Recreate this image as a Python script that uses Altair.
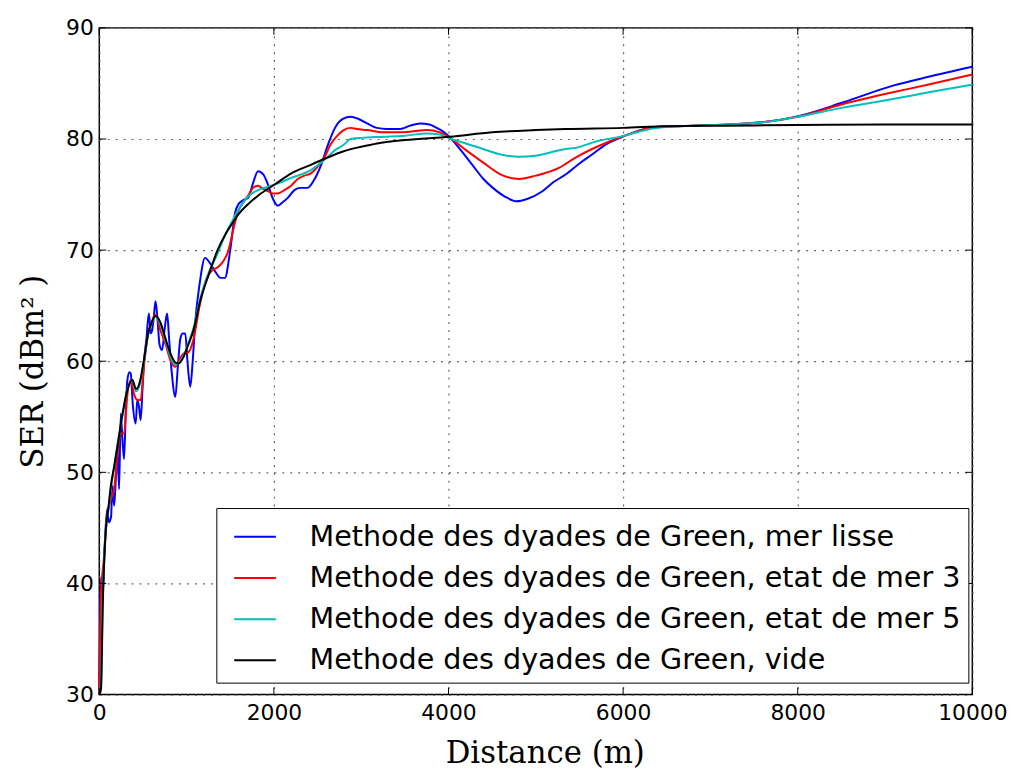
import altair as alt
import pandas as pd

# ---------------- data ----------------
lisse_d = [0, 20, 40, 60, 90, 110, 135, 150, 170, 190, 208, 227, 246, 265, 284, 305, 322, 345, 360, 385,
           417, 435, 455, 474, 495, 511, 540, 568, 590, 606, 625, 644, 665, 690, 720, 750, 777, 800, 830,
           871, 900, 928, 955, 985, 1010, 1042, 1070, 1098, 1150, 1212, 1270, 1326, 1390, 1439, 1500,
           1560, 1591, 1650, 1705, 1760, 1818, 1880, 1932, 1990, 2045, 2100, 2159, 2235, 2300, 2386,
           2460, 2538, 2620, 2700, 2790, 2879, 2970, 3068, 3180, 3295, 3447, 3560, 3674, 3780, 3864,
           3950, 4034, 4150, 4280, 4400, 4508, 4650, 4780, 4900, 5076, 5200, 5341, 5500, 5644, 5800,
           6023, 6200, 6402, 6600, 6800, 7000, 7200, 7576, 8030, 8523, 9091, 9500, 10000]
lisse_v = [30, 40.5, 39, 43, 46.7, 45.5, 46, 48.8, 47, 49.5, 52.3, 48.5, 55.3, 53, 51.2, 56, 58.3, 59, 58.9, 56,
           54.4, 56.5, 55.9, 54.7, 57.5, 59.8, 62, 64.3, 62.5, 62.8, 64, 65.4, 64, 61.5, 61.0, 63, 64.3, 62, 59,
           56.8, 59.5, 62.0, 62.5, 62.5, 60, 57.7, 60, 63.4, 67, 69.3, 68.8, 68.1, 67.5, 67.5, 70,
           73.5, 74.1, 74.5, 74.7, 76, 77.1, 76.8, 75.9, 74.6, 74.0, 74.3, 74.7, 75.4, 75.6, 75.6,
           76.3, 77.6, 79.5, 81.0, 81.8, 82.0, 81.8, 81.4, 81.0, 80.9, 80.9, 81.2, 81.4, 81.3, 81.0,
           80.6, 80.0, 78.9, 77.6, 76.4, 75.6, 74.8, 74.4, 74.6, 75.3, 76.1, 76.8, 77.8, 78.6, 79.5,
           80.3, 80.8, 81.1, 81.15, 81.2, 81.25, 81.3, 81.5, 82.1, 83.3, 84.8, 85.6, 86.5]

mer3_d = [0, 20, 50, 90, 130, 170, 208, 246, 284, 322, 360, 400, 440, 474, 511, 560, 600, 644, 700, 760,
          820, 871, 920, 966, 1020, 1080, 1150, 1231, 1300, 1364, 1420, 1477, 1540, 1591, 1650, 1705,
          1760, 1818, 1880, 1932, 1990, 2045, 2120, 2197, 2273, 2350, 2424, 2500, 2576, 2650, 2727,
          2800, 2880, 2950, 3068, 3250, 3447, 3600, 3750, 3900, 4034, 4200, 4394, 4600, 4811, 5000,
          5265, 5450, 5644, 5850, 6023, 6200, 6402, 6800, 7200, 7600, 8000, 8500, 9091, 9500, 10000]
mer3_v = [30, 39, 42, 46, 47.5, 48.5, 51.5, 53.5, 53.5, 57, 58.3, 57, 56.5, 56.5, 59.5, 62.5, 63.5, 64.2, 62.8, 61.5,
          60, 59.5, 60.2, 60.7, 60.8, 62.0, 65, 67.5, 68.2, 68.5, 69, 69.9, 72, 73.5, 74.3, 74.9,
          75.6, 75.8, 75.5, 75.3, 75.1, 75.1, 75.4, 75.8, 76.4, 76.7, 76.9, 77.5, 78.3, 79.5, 80.3,
          80.8, 81.0, 80.9, 80.8, 80.6, 80.6, 80.7, 80.8, 80.6, 80.0, 79.0, 77.9, 76.8, 76.4, 76.7,
          77.4, 78.3, 79.1, 79.8, 80.3, 80.8, 81.1, 81.2, 81.3, 81.5, 82.0, 83.1, 84.2, 84.9, 85.8]

mer5_d = [0, 20, 40, 76, 100, 133, 170, 208, 260, 322, 380, 420, 460, 511, 560, 600, 644, 700, 760, 820,
          870, 909, 960, 1020, 1080, 1155, 1250, 1350, 1450, 1515, 1591, 1700, 1818, 1932, 2045, 2200,
          2424, 2576, 2700, 2803, 2879, 3000, 3258, 3500, 3750, 3900, 4034, 4200, 4394, 4600, 4811,
          5000, 5341, 5455, 5700, 6023, 6200, 6402, 6800, 7200, 7600, 8000, 8500, 9091, 9500, 10000]
mer5_v = [30, 31, 38.5, 45, 46.3, 48.5, 50.5, 52.5, 54.8, 57.5, 58.2, 57.3, 57.8, 60.0, 62.4, 63.4, 64.0, 63.3, 61.8, 60.3,
          59.7, 59.8, 60.4, 61.6, 63.0, 65.6, 67.9, 69.6, 71.5, 72.5, 73.6, 74.8, 75.4, 75.7, 76.0, 76.5,
          77.2, 78.1, 79.0, 79.5, 80.0, 80.1, 80.2, 80.3, 80.5, 80.4, 80.0, 79.6, 79.1, 78.6, 78.4,
          78.5, 79.1, 79.2, 79.8, 80.3, 80.7, 81.0, 81.2, 81.3, 81.5, 82.0, 82.8, 83.6, 84.2, 84.9]

vide_d = [0, 20, 40, 76, 100, 133, 170, 208, 260, 322, 380, 420, 460, 511, 560, 600, 644, 700, 760, 820,
          870, 909, 960, 1020, 1080, 1155, 1250, 1350, 1450, 1515, 1591, 1700, 1818, 2008, 2200, 2400,
          2576, 2800, 3000, 3182, 3500, 4015, 4500, 5000, 5341, 6000, 6500, 7159, 8000, 9000, 10000]
vide_v = [30, 30.5, 38, 44.9, 46.5, 48.8, 50.5, 52.3, 55, 57.4, 58.3, 57.5, 58, 60.1, 62.5, 63.5, 64.1, 63.5, 62.0, 60.6,
          59.9, 59.8, 60.3, 61.5, 62.8, 65.4, 67.7, 69.9, 71.5, 72.3, 73.2, 74.1, 74.9, 75.9, 76.9, 77.6,
          78.2, 78.9, 79.3, 79.6, 79.9, 80.2, 80.6, 80.8, 80.9, 81.0, 81.15, 81.2, 81.25, 81.3, 81.3]

series_names = [
    "Methode des dyades de Green, mer lisse",
    "Methode des dyades de Green, etat de mer 3",
    "Methode des dyades de Green, etat de mer 5",
    "Methode des dyades de Green, vide",
]
series_colors = ["#0000ff", "#ff0000", "#00bfbf", "#000000"]

x_ticks = [0, 2000, 4000, 6000, 8000, 10000]
y_ticks = [30, 40, 50, 60, 70, 80, 90]

# ---------------- build table ----------------
rows = []
for name, ds, vs in zip(series_names, [lisse_d, mer3_d, mer5_d, vide_d], [lisse_v, mer3_v, mer5_v, vide_v]):
    for d, v in zip(ds, vs):
        rows.append({"serie": name, "d": d, "v": v})
df = pd.DataFrame(rows)

W, H = 880, 672
xscale = alt.Scale(domain=[0, 10000], nice=False)
yscale = alt.Scale(domain=[30, 90], nice=False)

x_axis = alt.Axis(title="Distance (m)", values=x_ticks, format="d", grid=True, labelFlush=False,
                  titleX=449, titleY=59, titleBaseline="middle",
                  titleFont="DejaVu Serif", titleFontSize=31, titleFontWeight="normal",
                  titleColor="black")
y_axis = alt.Axis(title="SER (dBm² )", values=y_ticks, grid=True, labelFlush=False,
                  titleX=-66, titleY=346, titleBaseline="middle", titleAlign="center",
                  titleFont="DejaVu Serif", titleFontSize=31, titleFontWeight="normal",
                  titleColor="black")

lines = alt.Chart(df).mark_line(strokeWidth=2, interpolate="monotone").encode(
    x=alt.X("d:Q", scale=xscale, axis=x_axis),
    y=alt.Y("v:Q", scale=yscale, axis=y_axis),
    color=alt.Color("serie:N",
                    scale=alt.Scale(domain=series_names, range=series_colors),
                    sort=series_names,
                    legend=alt.Legend(title=None, orient="none", legendX=118, legendY=484,
                                      strokeColor="black", fillColor="white", padding=7,
                                      symbolType="stroke", symbolSize=1764, symbolStrokeWidth=2,
                                      symbolOffset=10,
                                      labelFontSize=28.8, labelFont="DejaVu Sans", labelColor="black",
                                      labelOffset=33, labelLimit=1000, rowPadding=4.5, cornerRadius=0)),
)

tick_x = pd.DataFrame({"t": x_ticks})
tick_y = pd.DataFrame({"t": y_ticks})
tx_bot = alt.Chart(tick_x).mark_rule(color="black", strokeWidth=1).encode(
    x=alt.X("t:Q", scale=xscale, axis=x_axis), y=alt.value(H), y2=alt.value(H - 7))
tx_top = alt.Chart(tick_x).mark_rule(color="black", strokeWidth=1).encode(
    x=alt.X("t:Q", scale=xscale, axis=x_axis), y=alt.value(0), y2=alt.value(7))
ty_left = alt.Chart(tick_y).mark_rule(color="black", strokeWidth=1).encode(
    y=alt.Y("t:Q", scale=yscale, axis=y_axis), x=alt.value(0), x2=alt.value(7))
ty_right = alt.Chart(tick_y).mark_rule(color="black", strokeWidth=1).encode(
    y=alt.Y("t:Q", scale=yscale, axis=y_axis), x=alt.value(W), x2=alt.value(W - 7))

chart = alt.layer(lines, tx_bot, tx_top, ty_left, ty_right).properties(
    width=W, height=H,
    autosize=alt.AutoSizeParams(type="none"),
    padding={"left": 92, "top": 17, "right": 41, "bottom": 72},
    background="white",
).configure_axis(
    labelFont="DejaVu Sans", labelFontSize=22, labelColor="black",
    domain=False, ticks=False, labelPadding=8,
    gridColor="#555555", gridDash=[2, 6], gridWidth=1.2, gridOpacity=0.9,
).configure_axisX(labelPadding=8).configure_axisY(labelPadding=6).configure_view(
    stroke="black", strokeWidth=1.5
)

chart.save("out.html", embed_options={"renderer": "svg", "actions": False})
